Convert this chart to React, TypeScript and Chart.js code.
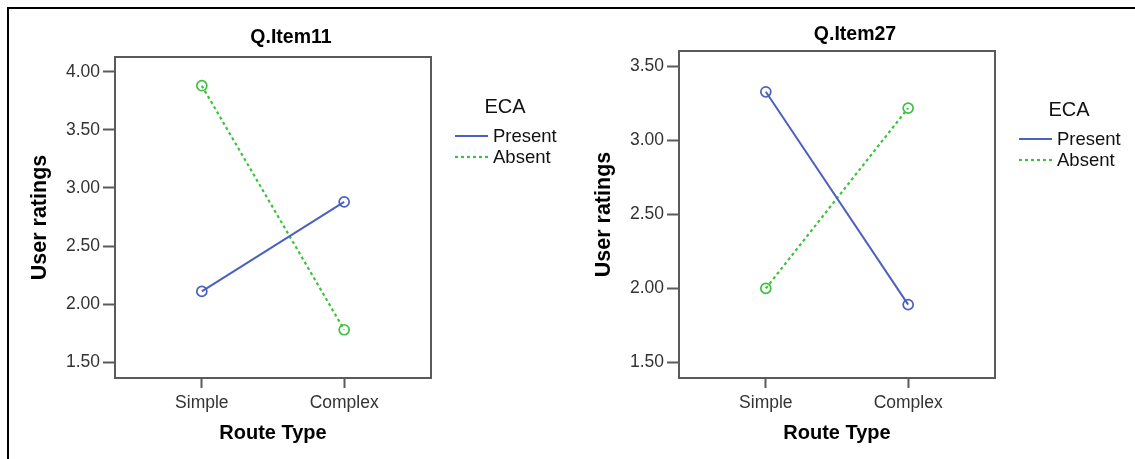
import React, { useEffect, useRef } from "react";
import { Chart, registerables } from "chart.js";

Chart.register(...registerables);

// Route type categories, placed at x = 1 and x = 2 on a linear axis
const routeTypes = ["Simple", "Complex"];
const routeTypePositions = [1, 2];

// Legend
const legendTitle = "ECA";
const seriesNames = ["Present", "Absent"];

// Mean user ratings per route type
const item11Present = [2.11, 2.88];
const item11Absent = [3.88, 1.78];
const item27Present = [3.33, 1.89];
const item27Absent = [2.0, 3.22];

// Y tick values
const item11YTicks = [1.5, 2.0, 2.5, 3.0, 3.5, 4.0];
const item27YTicks = [1.5, 2.0, 2.5, 3.0, 3.5];

const FONT = '"Liberation Sans", Arial, Helvetica, sans-serif';
const BLUE = "#4b61bf";
const GREEN = "#3cc23c";
const FRAME = "#5a5a5a";

type Panel = {
  title: string;
  present: number[];
  absent: number[];
  yTicks: number[];
  yMin: number;
  yMax: number;
  left: number;
  width: number;
  padding: { left: number; top: number; right: number; bottom: number };
  titleY: number;
  legendY: number;
};

const panels: Panel[] = [
  {
    title: "Q.Item11",
    present: item11Present,
    absent: item11Absent,
    yTicks: item11YTicks,
    yMin: 1.365,
    yMax: 4.127,
    left: 0,
    width: 567,
    padding: { left: 35, top: 57, right: 136, bottom: 41 },
    titleY: 38,
    legendY: 107,
  },
  {
    title: "Q.Item27",
    present: item27Present,
    absent: item27Absent,
    yTicks: item27YTicks,
    yMin: 1.394,
    yMax: 3.606,
    left: 567,
    width: 568,
    padding: { left: 32, top: 51, right: 140, bottom: 41 },
    titleY: 35,
    legendY: 110,
  },
];

function makePanelPlugin(panel: Panel) {
  return {
    id: "panelDecor",
    beforeDatasetsDraw(chart: any) {
      const { ctx, chartArea: a } = chart;
      ctx.save();
      ctx.strokeStyle = FRAME;
      ctx.lineWidth = 2;
      ctx.strokeRect(a.left, a.top, a.right - a.left, a.bottom - a.top);
      ctx.restore();
    },
    afterDraw(chart: any) {
      const { ctx, chartArea: a } = chart;
      const cx = (a.left + a.right) / 2;
      const cy = (a.top + a.bottom) / 2;
      ctx.save();
      ctx.fillStyle = "#000";
      ctx.textBaseline = "middle";

      // Panel title
      ctx.textAlign = "center";
      ctx.font = `bold 19.5px ${FONT}`;
      ctx.fillText(panel.title, cx + 18, panel.titleY);

      // X axis title
      ctx.font = `bold 20px ${FONT}`;
      ctx.fillText("Route Type", cx, 433);

      // Y axis title
      ctx.save();
      ctx.translate(a.left - 75, cy);
      ctx.rotate(-Math.PI / 2);
      ctx.font = `bold 21.5px ${FONT}`;
      ctx.fillText("User ratings", 0, 0);
      ctx.restore();

      // Legend
      ctx.fillStyle = "#111";
      ctx.font = `20px ${FONT}`;
      ctx.fillText(legendTitle, a.right + 74, panel.legendY);
      ctx.font = `18.5px ${FONT}`;
      ctx.textAlign = "left";
      chart.data.datasets.forEach((ds: any, i: number) => {
        const y = panel.legendY + 29 + i * 21;
        ctx.save();
        ctx.strokeStyle = ds.borderColor;
        ctx.lineWidth = ds.borderWidth;
        ctx.setLineDash(ds.borderDash || []);
        ctx.beginPath();
        ctx.moveTo(a.right + 24, y);
        ctx.lineTo(a.right + 57, y);
        ctx.stroke();
        ctx.restore();
        ctx.fillText(ds.label, a.right + 62, y + 1);
      });
      ctx.restore();
    },
  };
}

function PanelChart({ panel }: { panel: Panel }) {
  const ref = useRef<HTMLCanvasElement | null>(null);

  useEffect(() => {
    if (!ref.current) return;
    const toPoints = (vals: number[]) =>
      vals.map((y, i) => ({ x: routeTypePositions[i], y }));

    const chart = new Chart(ref.current, {
      type: "line",
      data: {
        datasets: [
          {
            label: seriesNames[0],
            data: toPoints(panel.present),
            borderColor: BLUE,
            borderWidth: 2,
            pointRadius: 5,
            pointBorderWidth: 1.7,
            pointBorderColor: BLUE,
            pointBackgroundColor: "rgba(255,255,255,0)",
            tension: 0,
          },
          {
            label: seriesNames[1],
            data: toPoints(panel.absent),
            borderColor: GREEN,
            borderWidth: 2.2,
            borderDash: [3, 3],
            pointRadius: 5,
            pointBorderWidth: 1.7,
            pointBorderColor: GREEN,
            pointBackgroundColor: "rgba(255,255,255,0)",
            tension: 0,
          },
        ],
      },
      options: {
        animation: false,
        responsive: false,
        maintainAspectRatio: false,
        devicePixelRatio: 1,
        layout: { padding: panel.padding },
        plugins: {
          legend: { display: false },
          title: { display: false },
          tooltip: { enabled: false },
        },
        scales: {
          x: {
            type: "linear",
            min: 0.39,
            max: 2.61,
            afterBuildTicks: (scale: any) => {
              scale.ticks = routeTypePositions.map((v) => ({ value: v }));
            },
            afterFit: (scale: any) => {
              scale.height = 40;
            },
            grid: {
              drawOnChartArea: false,
              drawTicks: true,
              tickLength: 10,
              tickColor: FRAME,
              tickWidth: 2,
            },
            border: { display: false },
            ticks: {
              autoSkip: false,
              maxRotation: 0,
              padding: 5,
              color: "#333",
              font: { family: FONT, size: 17.5 },
              callback: (value: any) =>
                routeTypes[routeTypePositions.indexOf(Number(value))] ?? "",
            },
          },
          y: {
            type: "linear",
            min: panel.yMin,
            max: panel.yMax,
            afterBuildTicks: (scale: any) => {
              scale.ticks = panel.yTicks.map((v) => ({ value: v }));
            },
            afterFit: (scale: any) => {
              scale.width = 80;
            },
            grid: {
              drawOnChartArea: false,
              drawTicks: true,
              tickLength: 12,
              tickColor: FRAME,
              tickWidth: 2,
            },
            border: { display: false },
            ticks: {
              padding: 3,
              color: "#333",
              font: { family: FONT, size: 17.5 },
              callback: (value: any) => Number(value).toFixed(2),
            },
          },
        },
      },
      plugins: [makePanelPlugin(panel)],
    } as any);

    return () => chart.destroy();
  }, [panel]);

  return (
    <canvas
      ref={ref}
      width={panel.width}
      height={459}
      style={{
        position: "absolute",
        left: panel.left,
        top: 0,
        width: panel.width,
        height: 459,
      }}
    />
  );
}

export default function App() {
  return (
    <div
      style={{
        position: "fixed",
        left: 0,
        top: 0,
        width: 1135,
        height: 459,
        overflow: "hidden",
        background: "#fff",
      }}
    >
      <div
        style={{
          position: "absolute",
          left: 7,
          top: 7,
          width: 1200,
          height: 500,
          borderLeft: "2.5px solid #000",
          borderTop: "2px solid #000",
        }}
      />
      {panels.map((p) => (
        <PanelChart key={p.title} panel={p} />
      ))}
    </div>
  );
}
